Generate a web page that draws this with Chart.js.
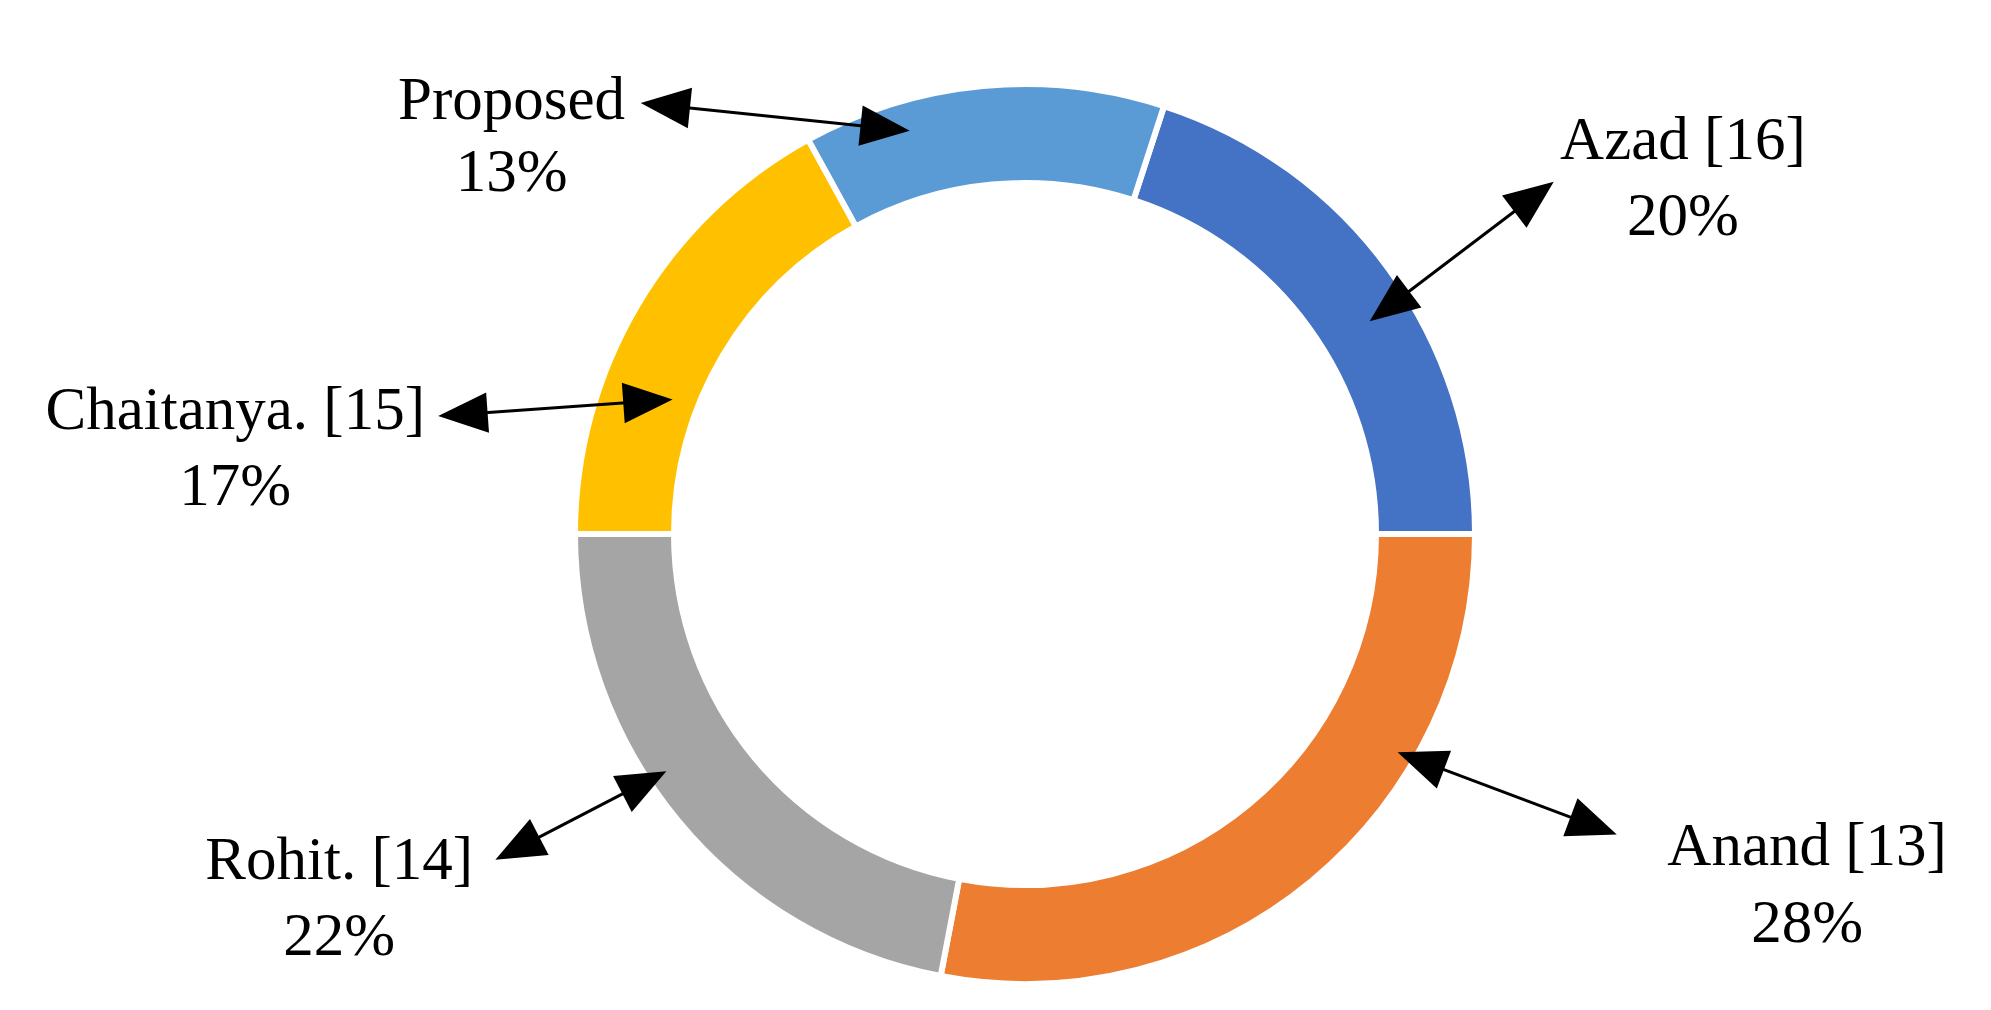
<!DOCTYPE html>
<html>
<head>
<meta charset="utf-8">
<script src="https://cdn.jsdelivr.net/npm/chart.js@4"></script>
<style>
  html, body { margin: 0; padding: 0; background: #fff; }
  #wrap { width: 1991px; height: 1010px; }
</style>
</head>
<body>
<div id="wrap"><canvas id="chart"></canvas></div>
<script>
// data
const labels = ["Azad [16]", "Anand [13]", "Rohit. [14]", "Chaitanya. [15]", "Proposed"];
const values = [20, 28, 22, 17, 13];
const colors = ["#4472C4", "#ED7D31", "#A5A5A5", "#FFC000", "#5B9BD5"];

// callout layout, in units of the outer radius from the centre
// [tipX, tipY, tailX, tailY, textX, textY1, textY2]
const callouts = [
  [0.766, -0.473, 1.175, -0.783, 1.462, -0.868, -0.699],
  [0.828, 0.485, 1.315, 0.668, 1.738, 0.701, 0.870],
  [-0.797, 0.527, -1.177, 0.724, -1.524, 0.730, 0.899],
  [-0.783, -0.299, -1.304, -0.262, -1.755, -0.270, -0.101],
  [-0.256, -0.896, -0.854, -0.958, -1.141, -0.958, -0.797]
];

function arrowHead(ctx, fx, fy, tx, ty, len, wid) {
  const a = Math.atan2(ty - fy, tx - fx);
  ctx.beginPath();
  ctx.moveTo(tx, ty);
  ctx.lineTo(tx - len * Math.cos(a) + wid * Math.sin(a), ty - len * Math.sin(a) - wid * Math.cos(a));
  ctx.lineTo(tx - len * Math.cos(a) - wid * Math.sin(a), ty - len * Math.sin(a) + wid * Math.cos(a));
  ctx.closePath();
  ctx.fill();
}

const calloutPlugin = {
  id: "callouts",
  afterDraw(chart) {
    const arc = chart.getDatasetMeta(0).data[0];
    const cx = arc.x, cy = arc.y, R = arc.outerRadius;
    const ctx = chart.ctx;
    ctx.save();
    ctx.fillStyle = "#000";
    ctx.strokeStyle = "#000";
    ctx.lineWidth = 3;
    ctx.font = Math.round(0.135 * R) + "px 'Liberation Serif', 'Times New Roman', serif";
    ctx.textAlign = "center";
    ctx.textBaseline = "middle";
    const total = values.reduce((a, b) => a + b, 0);
    callouts.forEach((c, i) => {
      const tx = cx + c[0] * R, ty = cy + c[1] * R;
      const fx = cx + c[2] * R, fy = cy + c[3] * R;
      const len = 0.11 * R, wid = 0.045 * R;
      const a = Math.atan2(ty - fy, tx - fx);
      ctx.beginPath();
      ctx.moveTo(fx + len * 0.8 * Math.cos(a), fy + len * 0.8 * Math.sin(a));
      ctx.lineTo(tx - len * 0.8 * Math.cos(a), ty - len * 0.8 * Math.sin(a));
      ctx.stroke();
      arrowHead(ctx, fx, fy, tx, ty, len, wid);
      arrowHead(ctx, tx, ty, fx, fy, len, wid);
      ctx.fillText(labels[i], cx + c[4] * R, cy + c[5] * R);
      ctx.fillText(Math.round(values[i] / total * 100) + "%", cx + c[4] * R, cy + c[6] * R);
    });
    ctx.restore();
  }
};

new Chart(document.getElementById("chart"), {
  type: "doughnut",
  data: {
    labels: labels,
    datasets: [{
      data: values,
      backgroundColor: colors,
      borderColor: "#fff",
      borderWidth: 6
    }]
  },
  options: {
    responsive: true,
    maintainAspectRatio: false,
    animation: false,
    rotation: 18,
    cutout: "78%",
    layout: { padding: { left: 572, right: 513, top: 81, bottom: 23 } },
    plugins: { legend: { display: false }, tooltip: { enabled: false } }
  },
  plugins: [calloutPlugin]
});
</script>
</body>
</html>
